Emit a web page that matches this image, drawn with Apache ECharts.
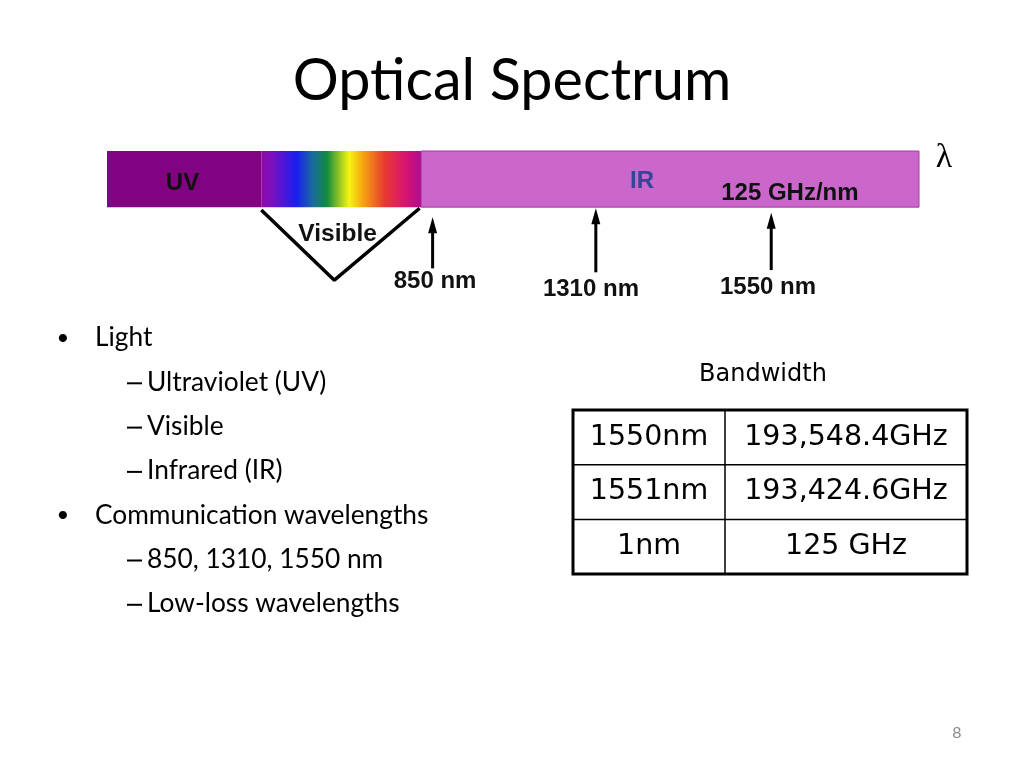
<html>
<head>
    <meta charset="utf-8">
    <title>Optical Spectrum</title>
    <script src="https://cdn.jsdelivr.net/npm/echarts@6/dist/echarts.min.js"></script>
    <style>
        body { margin: 0; background: #fff; }
    </style>
</head>
<body>
<div id="chartmain" style="width:1024px; height:768px;"></div>
<script type="text/javascript">
    // spectrum bands (x runs 0..100 along the bar)
    var segNames = ['UV', 'Visible', 'IR'];
    var segStart = [0, 19, 38.7];
    var segEnd = [19, 38.7, 100];

    // labels on the bar
    var barLabels = ['UV', 'IR', '125 GHz/nm'];
    var barLabelX = [9.3, 65.9, 84.1];
    var barLabelY = [0.57, 0.54, 0.76];

    // wavelength arrows
    var arrowLabels = ['850 nm', '1310 nm', '1550 nm'];
    var arrowX = [40.1, 60.2, 81.8];
    var arrowTip = [1.18, 1.02, 1.1];
    var arrowTail = [2.09, 2.16, 2.12];
    var arrowLabelX = [40.4, 59.6, 81.4];
    var arrowLabelY = [2.32, 2.47, 2.42];

    // "Visible" bracket
    var bracketX = [19.0, 28.0, 38.5];
    var bracketY = [1.05, 2.3, 1.02];

    // bullet list
    var bulletText = ['Light', 'Ultraviolet (UV)', 'Visible', 'Infrared (IR)',
        'Communication wavelengths', '850, 1310, 1550 nm', 'Low-loss wavelengths'];
    var bulletLevel = [0, 1, 1, 1, 0, 1, 1];

    // bandwidth table
    var tableTitle = 'Bandwidth';
    var tableCol1 = ['1550nm', '1551nm', '1nm'];
    var tableCol2 = ['193,548.4GHz', '193,424.6GHz', '125 GHz'];

    var visibleGradient = new echarts.graphic.LinearGradient(0, 0, 1, 0, [
        { offset: 0, color: '#8e0aa8' },
        { offset: 0.07, color: '#7a10c0' },
        { offset: 0.22, color: '#1a1ef0' },
        { offset: 0.32, color: '#1a6aa0' },
        { offset: 0.41, color: '#108a40' },
        { offset: 0.50, color: '#a8d020' },
        { offset: 0.55, color: '#f5f510' },
        { offset: 0.64, color: '#f5a010' },
        { offset: 0.77, color: '#e83a30' },
        { offset: 0.90, color: '#d81470' },
        { offset: 1, color: '#b00c90' }
    ]);
    var segFill = ['#810381', visibleGradient, '#cb66cb'];

    var myChart = echarts.init(document.getElementById('chartmain'));

    var segData = segNames.map(function (n, i) { return [segStart[i], segEnd[i], n]; });
    var barLabelData = barLabels.map(function (t, i) { return [barLabelX[i], barLabelY[i], t]; });
    var arrowData = arrowLabels.map(function (t, i) {
        return [arrowX[i], arrowTip[i], arrowTail[i], arrowLabelX[i], arrowLabelY[i], t];
    });
    var bracketData = bracketX.map(function (x, i) { return [x, bracketY[i]]; });

    // slide texts and table
    var graphics = [{
        type: 'text', x: 512, y: 81,
        style: { text: 'Optical Spectrum', font: '57.5px Lato', fill: '#000', align: 'center', verticalAlign: 'middle' }
    }, {
        type: 'text', x: 944, y: 158,
        style: { text: 'λ', font: '34px "Liberation Serif"', fill: '#000', align: 'center', verticalAlign: 'middle' }
    }, {
        type: 'text', x: 957, y: 733,
        style: { text: '8', font: '16px Lato', fill: '#8a8a8a', align: 'center', verticalAlign: 'middle' }
    }];

    var lineY = 338, lineGap = 44.3;
    bulletText.forEach(function (t, i) {
        var y = lineY + i * lineGap;
        if (bulletLevel[i] === 0) {
            graphics.push({ type: 'text', x: 63, y: y,
                style: { text: '•', font: '22px Lato', fill: '#000', align: 'center', verticalAlign: 'middle' } });
            graphics.push({ type: 'text', x: 95, y: y,
                style: { text: t, font: '26.3px Lato', fill: '#000', verticalAlign: 'middle' } });
        } else {
            // dash of the sub item
            graphics.push({ type: 'line', shape: { x1: 127, y1: y + 1, x2: 142, y2: y + 1 },
                style: { stroke: '#000', lineWidth: 2 } });
            graphics.push({ type: 'text', x: 147, y: y,
                style: { text: t, font: '26.3px Lato', fill: '#000', verticalAlign: 'middle' } });
        }
    });

    var tLeft = 573, tRight = 967, tMid = 725, tTop = 410, rowH = 54.7;
    graphics.push({ type: 'text', x: 763, y: 375,
        style: { text: tableTitle, font: '24px "DejaVu Sans"', fill: '#000', align: 'center', verticalAlign: 'middle' } });
    tableCol1.forEach(function (t, i) {
        var cy = tTop + rowH * (i + 0.5);
        graphics.push({ type: 'text', x: (tLeft + tMid) / 2, y: cy,
            style: { text: t, font: '28.5px "DejaVu Sans"', fill: '#000', align: 'center', verticalAlign: 'middle' } });
        graphics.push({ type: 'text', x: (tMid + tRight) / 2, y: cy,
            style: { text: tableCol2[i], font: '28.5px "DejaVu Sans"', fill: '#000', align: 'center', verticalAlign: 'middle' } });
        if (i > 0) {
            graphics.push({ type: 'line', shape: { x1: tLeft, y1: tTop + rowH * i, x2: tRight, y2: tTop + rowH * i },
                style: { stroke: '#000', lineWidth: 1.5 } });
        }
    });
    graphics.push({ type: 'line', shape: { x1: tMid, y1: tTop, x2: tMid, y2: tTop + rowH * tableCol1.length },
        style: { stroke: '#000', lineWidth: 1.5 } });
    graphics.push({ type: 'rect', shape: { x: tLeft, y: tTop, width: tRight - tLeft, height: rowH * tableCol1.length },
        style: { stroke: '#000', fill: 'none', lineWidth: 3 } });

    myChart.setOption({
        animation: false,
        grid: { left: 107, width: 812, top: 151, height: 146 },
        xAxis: { type: 'value', min: 0, max: 100, show: false },
        yAxis: { type: 'value', min: 0, max: 2.6, inverse: true, show: false },
        graphic: graphics,
        series: [{
            // coloured bands
            type: 'custom',
            data: segData,
            renderItem: function (params, api) {
                var p0 = api.coord([api.value(0), 0]);
                var p1 = api.coord([api.value(1), 1]);
                var i = params.dataIndex;
                return {
                    type: 'rect',
                    shape: { x: p0[0], y: p0[1], width: p1[0] - p0[0], height: p1[1] - p0[1] },
                    style: { fill: segFill[i], stroke: i === 2 ? '#a83aa8' : null, lineWidth: 1 }
                };
            }
        }, {
            // texts on the bar
            type: 'custom',
            data: barLabelData,
            renderItem: function (params, api) {
                var p = api.coord([api.value(0), api.value(1)]);
                var i = params.dataIndex;
                return {
                    type: 'text', x: p[0], y: p[1],
                    style: {
                        text: barLabels[i],
                        font: 'bold 24px "Liberation Sans"',
                        fill: i === 1 ? '#33479a' : '#111',
                        align: 'center', verticalAlign: 'middle'
                    }
                };
            }
        }, {
            // bracket under the visible band
            type: 'line',
            data: bracketData,
            symbol: 'none',
            lineStyle: { color: '#000', width: 3.5 }
        }, {
            type: 'custom',
            data: [[28.4, 1.48]],
            renderItem: function (params, api) {
                var p = api.coord([api.value(0), api.value(1)]);
                return {
                    type: 'text', x: p[0], y: p[1],
                    style: { text: 'Visible', font: 'bold 24.5px "Liberation Sans"', fill: '#111', align: 'center', verticalAlign: 'middle' }
                };
            }
        }, {
            // wavelength arrows
            type: 'custom',
            data: arrowData,
            renderItem: function (params, api) {
                var tip = api.coord([api.value(0), api.value(1)]);
                var tail = api.coord([api.value(0), api.value(2)]);
                var lab = api.coord([api.value(3), api.value(4)]);
                return {
                    type: 'group',
                    children: [{
                        type: 'line',
                        shape: { x1: tail[0], y1: tail[1], x2: tip[0], y2: tip[1] + 8 },
                        style: { stroke: '#000', lineWidth: 3 }
                    }, {
                        type: 'polygon',
                        shape: { points: [[tip[0], tip[1]], [tip[0] - 4.5, tip[1] + 16], [tip[0] + 4.5, tip[1] + 16]] },
                        style: { fill: '#000' }
                    }, {
                        type: 'text', x: lab[0], y: lab[1],
                        style: {
                            text: arrowLabels[params.dataIndex],
                            font: 'bold 24px "Liberation Sans"', fill: '#111',
                            align: 'center', verticalAlign: 'middle'
                        }
                    }]
                };
            }
        }]
    });
</script>
</body>
</html>
